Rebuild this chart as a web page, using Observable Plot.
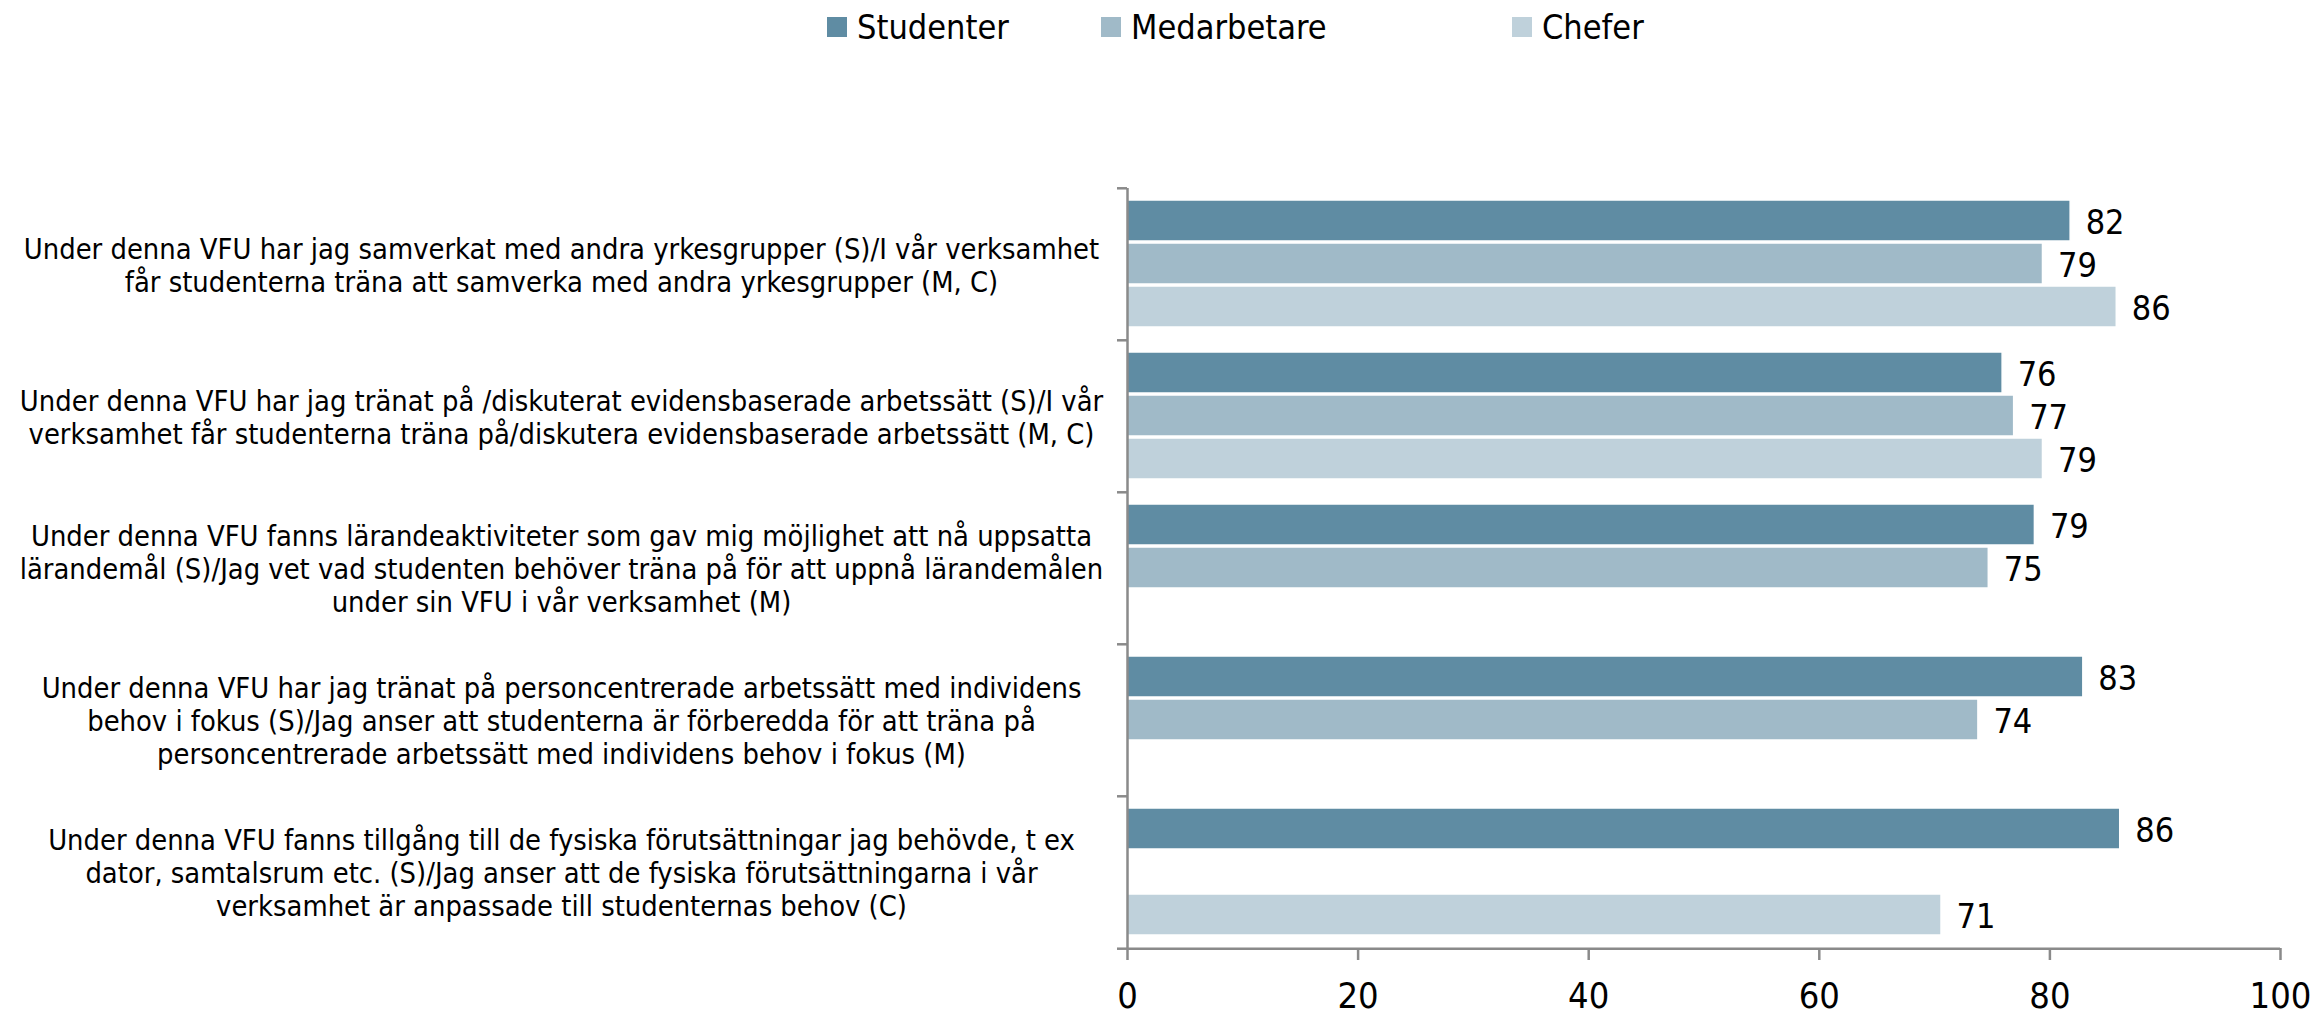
<!DOCTYPE html>
<html><head><meta charset="utf-8">
<script src="https://cdn.jsdelivr.net/npm/d3@7"></script>
<script src="https://cdn.jsdelivr.net/npm/@observablehq/plot@0.6"></script>
<style>
body{margin:0;background:#fff;font-family:"DejaVu Sans Condensed","DejaVu Sans",sans-serif;}
#legend{position:relative;height:60px;width:2315px;}
.item{position:absolute;top:0;height:54px;display:flex;align-items:center;font-size:34px;color:#000;}
.sw{width:20px;height:20px;margin-right:10px;}
</style></head><body>
<div id="legend"></div><div id="chart"></div>
<script>
const questions = [
  "Under denna VFU har jag samverkat med andra yrkesgrupper (S)/I vår verksamhet\nfår studenterna träna att samverka med andra yrkesgrupper (M, C)",
  "Under denna VFU har jag tränat på /diskuterat evidensbaserade arbetssätt (S)/I vår\nverksamhet får studenterna träna på/diskutera evidensbaserade arbetssätt (M, C)",
  "Under denna VFU fanns lärandeaktiviteter som gav mig möjlighet att nå uppsatta\nlärandemål (S)/Jag vet vad studenten behöver träna på för att uppnå lärandemålen\nunder sin VFU i vår verksamhet (M)",
  "Under denna VFU har jag tränat på personcentrerade arbetssätt med individens\nbehov i fokus (S)/Jag anser att studenterna är förberedda för att träna på\npersoncentrerade arbetssätt med individens behov i fokus (M)",
  "Under denna VFU fanns tillgång till de fysiska förutsättningar jag behövde, t ex\ndator, samtalsrum etc. (S)/Jag anser att de fysiska förutsättningarna i vår\nverksamhet är anpassade till studenternas behov (C)"
];
const series = ["Studenter", "Medarbetare", "Chefer"];
const colors = ["#5f8ca3", "#a0bac8", "#bfd1db"];
const studenter   = [81.8, 75.9, 78.7, 82.9, 86.1];
const medarbetare = [79.4, 76.9, 74.7, 73.8, null];
const chefer      = [85.8, 79.4, null, null, 70.6];
const xTicks = [0, 20, 40, 60, 80, 100];

const seriesValues = [studenter, medarbetare, chefer];
const data = questions.flatMap((q, i) =>
  series.map((s, k) => ({q, s, v: seriesValues[k][i]})).filter(d => d.v != null)
);

// legend (style positions)
const legendLeft = [827, 1101, 1512];
const legend = document.getElementById("legend");
series.forEach((s, k) => {
  const it = document.createElement("div");
  it.className = "item";
  it.style.left = legendLeft[k] + "px";
  const sw = document.createElement("div");
  sw.className = "sw";
  sw.style.background = colors[k];
  it.appendChild(sw);
  it.appendChild(document.createTextNode(s));
  legend.appendChild(it);
});

const H = 956, MT = 127, MB = 67;
const step = (H - MT - MB) / questions.length;
const last = questions[questions.length - 1];
const axisColor = "#8a8a8a";
const font = "'DejaVu Sans Condensed','DejaVu Sans',sans-serif";

const chart = Plot.plot({
  width: 2315, height: H,
  marginTop: MT, marginBottom: MB, marginLeft: 1127, marginRight: 35,
  style: {fontFamily: font, fontSize: "34px", color: "#000", background: "#fff", overflow: "visible"},
  x: {domain: [0, 100], axis: null},
  y: {domain: series, paddingInner: 0.045, paddingOuter: 0.254, axis: null},
  fy: {domain: questions, padding: 0, axis: null, label: null},
  color: {domain: series, range: colors},
  marks: [
    Plot.barX(data, {fy: "q", y: "s", x: "v", fill: "s", stroke: "white", strokeWidth: 1.5}),
    Plot.text(data, {fy: "q", y: "s", x: "v", text: d => d3.format(".0f")(d.v),
      textAnchor: "start", dx: 15, dy: 2, fontSize: 34, fill: "#000"}),
    Plot.text(questions, {fy: d => d, text: d => d, frameAnchor: "left", dx: -566,
      textAnchor: "middle", lineHeight: 1.157, fontSize: 28.8, fill: "#000"}),
    Plot.ruleX([0], {stroke: axisColor, strokeWidth: 2.5}),
    Plot.gridFy({ticks: [last], dy: step / 2, stroke: axisColor, strokeOpacity: 1, strokeWidth: 2.5}),
    Plot.axisFy({anchor: "left", ticks: questions, dy: -step / 2, tickSize: 10, tickFormat: () => "", stroke: axisColor, strokeWidth: 2.5, label: null}),
    Plot.axisFy({anchor: "left", ticks: [last], dy: step / 2, tickSize: 10, tickFormat: () => "", stroke: axisColor, strokeWidth: 2.5, label: null}),
    Plot.axisX({ticks: xTicks, tickSize: 12, tickPadding: 22, stroke: axisColor, strokeWidth: 2.5,
      fontSize: 36, fill: "#000", label: null})
  ]
});
document.getElementById("chart").appendChild(chart);
</script>
</body></html>
